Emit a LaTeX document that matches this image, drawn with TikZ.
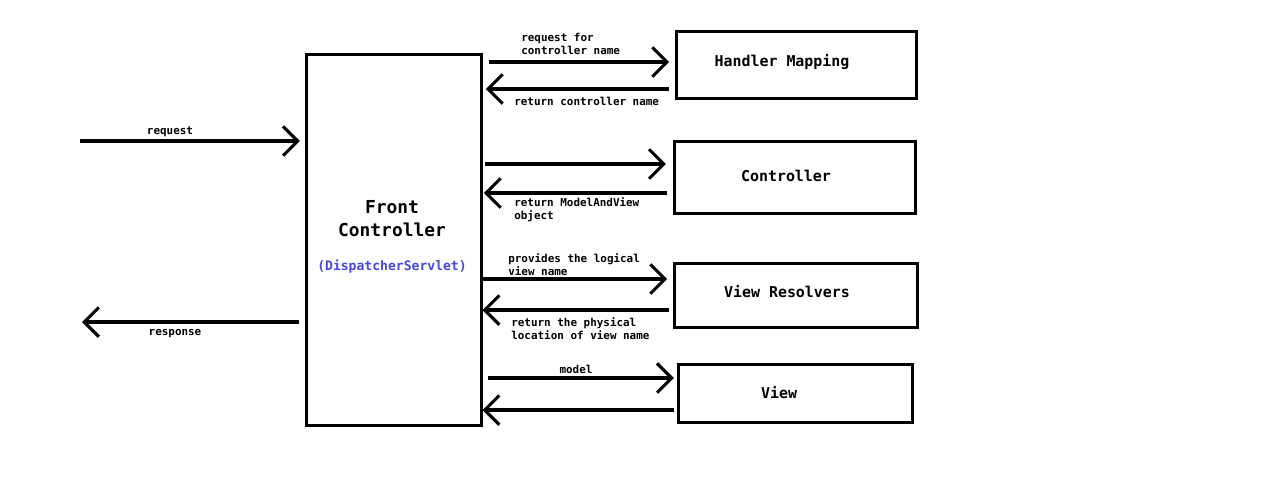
\documentclass[tikz,border=0pt]{standalone}
\usepackage{fontspec}
\setmonofont{DejaVu Sans Mono}
\usetikzlibrary{arrows.meta}
\definecolor{dsblue}{RGB}{70,70,225}
\tikzset{
  box/.style={draw, line width=2.25pt, rectangle, inner sep=0pt},
  arr/.style={line width=2.3pt, -{Straight Barb[length=11pt,width=22pt,line width=2.3pt]}},
  small/.style={font=\ttfamily\bfseries\fontsize{8.2pt}{9.8pt}\selectfont, inner sep=0pt, align=left},
  boxtext/.style={font=\ttfamily\bfseries\fontsize{11.2pt}{13pt}\selectfont, inner sep=0pt},
}
\begin{document}
\begin{tikzpicture}[x=0.75pt,y=-0.75pt]
\useasboundingbox (0,0) rectangle (1280,490);
\fill[white] (0,0) rectangle (1280,490);

% boxes
\node[box, minimum width=131.25pt, minimum height=278.25pt] (FC) at (393.5,239.5) {};
\node[box, minimum width=180pt, minimum height=50.25pt] (HM) at (796,64.5) {};
\node[box, minimum width=180.75pt, minimum height=54pt] (CT) at (794.5,177) {};
\node[box, minimum width=182.25pt, minimum height=48pt] (VR) at (795.5,295) {};
\node[box, minimum width=175.5pt, minimum height=43.5pt] (VW) at (795,393) {};

% box texts
\node[font=\ttfamily\bfseries\fontsize{13.4pt}{17.3pt}\selectfont, inner sep=0pt, align=center] (fct) at (392,218.5) {Front\\Controller};
\node[font=\ttfamily\bfseries\fontsize{9.8pt}{12pt}\selectfont, inner sep=0pt, text=dsblue] (dst) at (392,267) {(DispatcherServlet)};
\node[boxtext] (hmt) at (782,62) {Handler Mapping};
\node[boxtext] (ctt) at (786,176) {Controller};
\node[boxtext] (vrt) at (787,292) {View Resolvers};
\node[boxtext] (vwt) at (779,393) {View};

% outside ends
\coordinate (in) at (80,141);
\coordinate (out) at (82,322);

% request / response
\draw[arr, shorten >=3.5pt] (in) -- (in -| FC.west);
\draw[arr, shorten <=4.5pt] (out -| FC.west) -- (out);
\node[small] (lreq) at (170,131.5) {request};
\node[small] (lres) at (175,334) {response};

% handler mapping
\draw[arr, shorten <=5pt, shorten >=4pt] (FC.east |- 0,62) -- (HM.west |- 0,62);
\draw[arr, shorten <=4pt, shorten >=2.5pt] (HM.west |- 0,89) -- (FC.east |- 0,89);
\node[small, anchor=west] (l1) at (521,44) {request for\\controller name};
\node[small, anchor=west] (l2) at (514,101) {return controller name};

% controller
\draw[arr, shorten <=2pt, shorten >=5pt] (FC.east |- 0,164) -- (CT.west |- 0,164);
\draw[arr, shorten <=4pt, shorten >=1pt] (CT.west |- 0,193) -- (FC.east |- 0,193);
\node[small, anchor=west] (l3) at (514,209.5) {return ModelAndView\\object};

% view resolvers
\draw[arr, shorten <=0pt, shorten >=4pt] (FC.east |- 0,279) -- (VR.west |- 0,279);
\draw[arr, shorten <=3pt, shorten >=0pt] (VR.west |- 0,310) -- (FC.east |- 0,310);
\node[small, anchor=west] (l4) at (508,264.5) {provides the logical\\view name};
\node[small, anchor=west] (l5) at (511,328.5) {return the physical\\location of view name};

% view
\draw[arr, shorten <=4pt, shorten >=2pt] (FC.east |- 0,378) -- (VW.west |- 0,378);
\draw[arr, shorten <=2pt, shorten >=0pt] (VW.west |- 0,410) -- (FC.east |- 0,410);
\node[small] (l6) at (576,369.5) {model};
\end{tikzpicture}
\end{document}
